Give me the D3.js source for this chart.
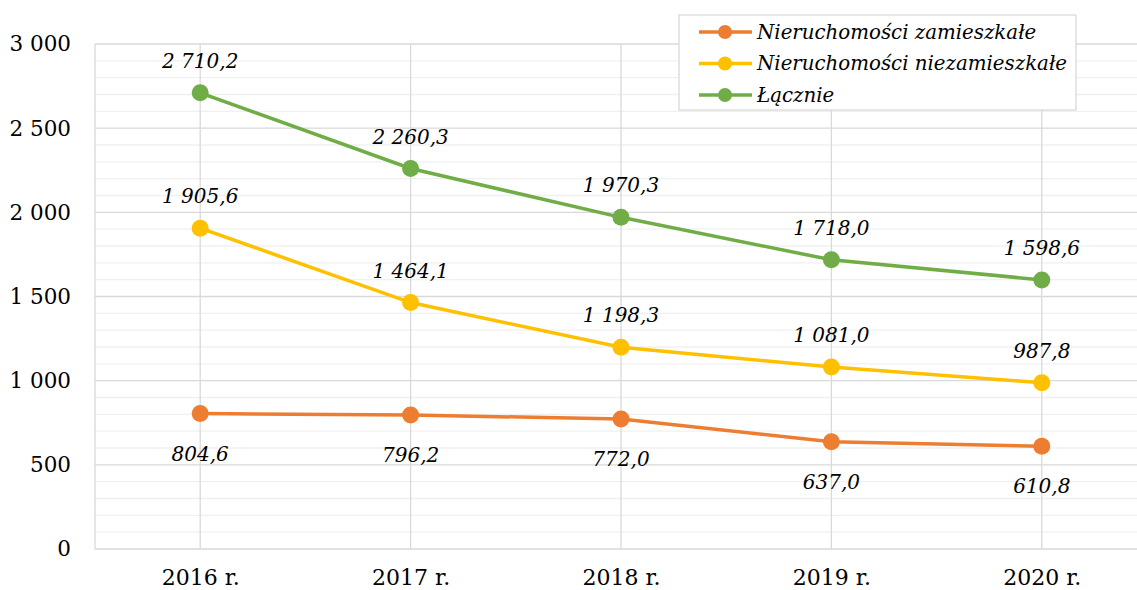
<!DOCTYPE html>
<html>
<head>
<meta charset="utf-8">
<script src="https://cdn.jsdelivr.net/npm/d3@7"></script>
<style>
  body { margin: 0; background: #fff; }
  svg { display: block; }
</style>
</head>
<body>
<div id="chart"></div>
<script>
// ---- dane ----
const years = ["2016 r.", "2017 r.", "2018 r.", "2019 r.", "2020 r."];
const zamieszkale = [804.6, 796.2, 772.0, 637.0, 610.8];
const niezamieszkale = [1905.6, 1464.1, 1198.3, 1081.0, 987.8];
const lacznie = [2710.2, 2260.3, 1970.3, 1718.0, 1598.6];
const yTicks = [0, 500, 1000, 1500, 2000, 2500, 3000];

const series = [
  { name: "Nieruchomości zamieszkałe", values: zamieszkale, color: "#ED7D31", labelPos: "below" },
  { name: "Nieruchomości niezamieszkałe", values: niezamieszkale, color: "#FFC000", labelPos: "above" },
  { name: "Łącznie", values: lacznie, color: "#70AD47", labelPos: "above" }
];

const width = 1137, height = 590;
const font = "'DejaVu Serif', serif";
const plotLeft = 95, plotRight = 1147, plotTop = 44, plotBottom = 549;

// liczby w formacie polskim: spacja tysięcy, przecinek dziesiętny
const fmtVal = v => d3.format(",.1f")(v).replace(/,/g, " ").replace(".", ",");
const fmtTick = v => d3.format(",")(v).replace(/,/g, " ");

const svg = d3.select("#chart").append("svg")
  .attr("width", width).attr("height", height);

const x = d3.scalePoint().domain(years).range([plotLeft, plotRight]).padding(0.5);
const y = d3.scaleLinear().domain([0, 3000]).range([plotBottom, plotTop]);

// siatka pomocnicza co 100
svg.append("g")
  .selectAll("line")
  .data(d3.range(100, 3000, 100).filter(v => v % 500 !== 0))
  .join("line")
    .attr("x1", plotLeft).attr("x2", plotRight)
    .attr("y1", d => y(d)).attr("y2", d => y(d))
    .attr("stroke", "#f0f0f0").attr("stroke-width", 1.3);

// siatka główna co 500
svg.append("g")
  .selectAll("line")
  .data(yTicks)
  .join("line")
    .attr("x1", plotLeft).attr("x2", plotRight)
    .attr("y1", d => y(d)).attr("y2", d => y(d))
    .attr("stroke", "#d9d9d9").attr("stroke-width", 1.3);

// linie pionowe
svg.append("g")
  .selectAll("line")
  .data(years)
  .join("line")
    .attr("x1", d => x(d)).attr("x2", d => x(d))
    .attr("y1", plotTop).attr("y2", plotBottom)
    .attr("stroke", "#d9d9d9").attr("stroke-width", 1.3);

// ramka obszaru wykresu (lewa krawędź)
svg.append("line")
  .attr("x1", plotLeft).attr("x2", plotLeft).attr("y1", plotTop).attr("y2", plotBottom)
  .attr("stroke", "#d9d9d9").attr("stroke-width", 1.3);

// oś Y
const yAxis = svg.append("g")
  .attr("transform", `translate(${plotLeft - 24},0)`)
  .call(d3.axisLeft(y).tickValues(yTicks).tickFormat(fmtTick).tickSize(0).tickPadding(0));
yAxis.select(".domain").remove();
yAxis.selectAll("text")
  .attr("font-family", font).attr("font-size", 21.5).attr("fill", "#000");

// oś X
const xAxis = svg.append("g")
  .attr("transform", `translate(0,${plotBottom})`)
  .call(d3.axisBottom(x).tickSize(0).tickPadding(20));
xAxis.select(".domain").remove();
xAxis.selectAll("text")
  .attr("font-family", font).attr("font-size", 22).attr("fill", "#000");

// serie
const line = d3.line().x((d, i) => x(years[i])).y(d => y(d));

series.forEach(s => {
  const g = svg.append("g");
  g.append("path")
    .datum(s.values)
    .attr("d", line)
    .attr("fill", "none")
    .attr("stroke", s.color)
    .attr("stroke-width", 3.5);

  g.selectAll("circle")
    .data(s.values)
    .join("circle")
      .attr("cx", (d, i) => x(years[i]))
      .attr("cy", d => y(d))
      .attr("r", 8.5)
      .attr("fill", s.color);

  g.selectAll("text")
    .data(s.values)
    .join("text")
      .attr("x", (d, i) => x(years[i]))
      .attr("y", d => y(d) + (s.labelPos === "above" ? -25 : 47))
      .attr("text-anchor", "middle")
      .attr("font-family", font)
      .attr("font-style", "italic")
      .attr("font-size", 20)
      .attr("fill", "#000")
      .text(d => fmtVal(d));
});

// legenda
const legend = svg.append("g").attr("transform", "translate(679,15)");
legend.append("rect")
  .attr("width", 397).attr("height", 95)
  .attr("fill", "#fff").attr("stroke", "#d9d9d9").attr("stroke-width", 1.3);

const items = legend.selectAll("g")
  .data(series)
  .join("g")
    .attr("transform", (d, i) => `translate(0,${17 + i * 31.5})`);
items.append("line")
  .attr("x1", 20).attr("x2", 73)
  .attr("stroke", d => d.color).attr("stroke-width", 3.5);
items.append("circle")
  .attr("cx", 46).attr("r", 7)
  .attr("fill", d => d.color);
items.append("text")
  .attr("x", 78).attr("dy", "0.35em")
  .attr("font-family", font).attr("font-style", "italic")
  .attr("font-size", 19.8).attr("fill", "#000")
  .text(d => d.name);
</script>
</body>
</html>
